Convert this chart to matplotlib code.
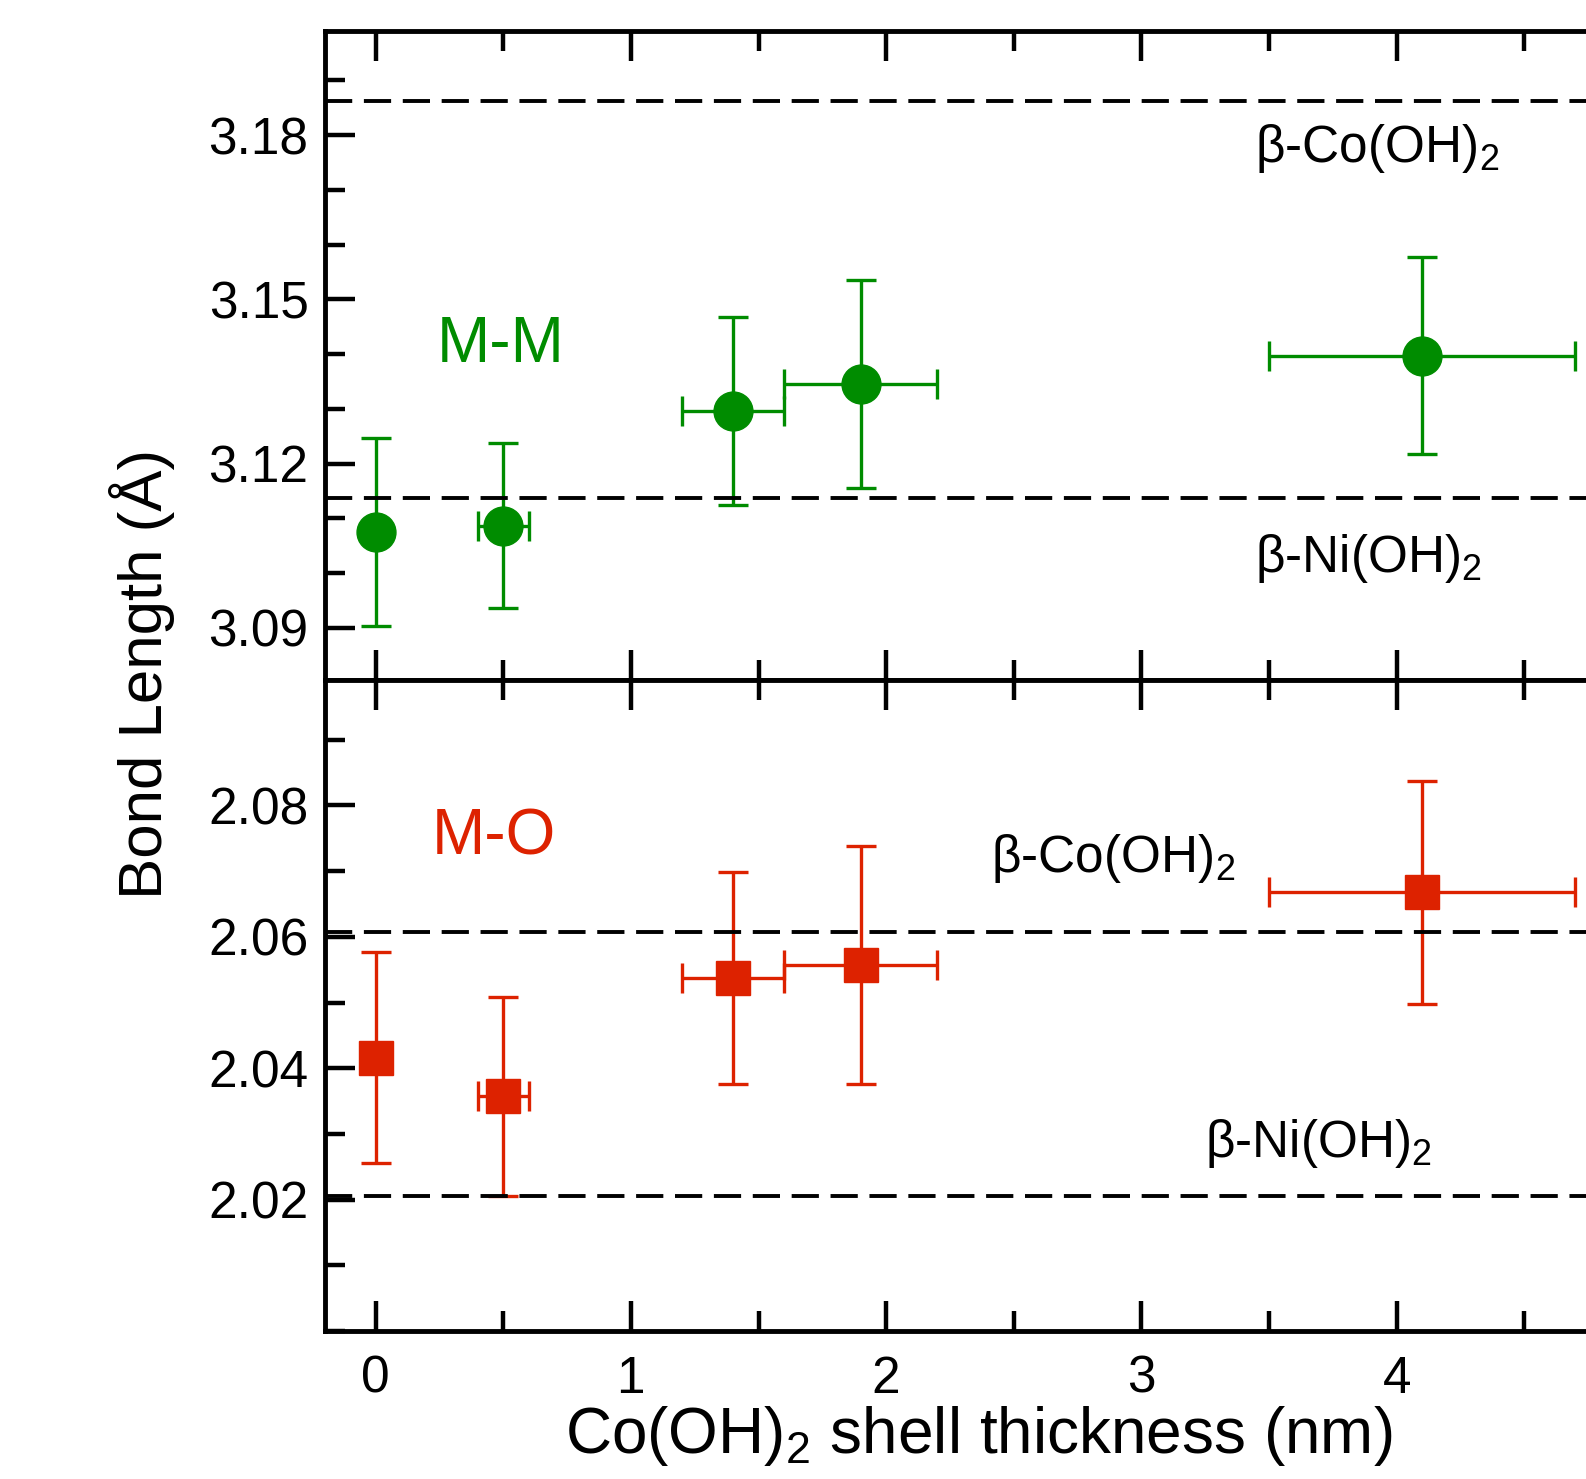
import matplotlib
matplotlib.use("Agg")
import matplotlib.pyplot as plt
from matplotlib.ticker import MultipleLocator, FormatStrFormatter

plt.rcParams['font.family'] = ['Liberation Sans', 'DejaVu Sans']
plt.rcParams['mathtext.fontset'] = 'custom'
plt.rcParams['mathtext.rm'] = 'Liberation Sans'
plt.rcParams['mathtext.it'] = 'Liberation Sans:italic'
plt.rcParams['mathtext.bf'] = 'Liberation Sans:bold'

# ---- data ----
thickness = [0.0, 0.5, 1.4, 1.9, 4.1]
thickness_err = [0.0, 0.1, 0.2, 0.3, 0.6]

mm_length = [3.1075, 3.1087, 3.1296, 3.1346, 3.1397]
mm_err = [0.0171, 0.0151, 0.0171, 0.0190, 0.0180]

mo_length = [2.0416, 2.0357, 2.0537, 2.0557, 2.0668]
mo_err = [0.0161, 0.0152, 0.0161, 0.0181, 0.0170]

mm_ref_co = 3.1862
mm_ref_ni = 3.1137
mo_ref_co = 2.0608
mo_ref_ni = 2.0205

x_ticks = [0, 1, 2, 3, 4, 5]
x_ticklabels = ['0', '1', '2', '3', '4', '']

green = '#008c00'
red = '#dd2200'

W, H = 1586, 1479
fig = plt.figure(figsize=(W / 100, H / 100), dpi=100)

left = 324.5 / W
width = 5.4 * 255.3 / W
ax_top = fig.add_axes([left, 1 - 680 / H, width, 649 / H])
ax_bot = fig.add_axes([left, 1 - 1331 / H, width, 651 / H])

tick_fs = 37
for ax in (ax_top, ax_bot):
    ax.set_xlim(-0.2, 5.2)
    ax.set_xticks(x_ticks, labels=x_ticklabels)
    ax.xaxis.set_minor_locator(MultipleLocator(0.5))
    ax.yaxis.set_minor_locator(MultipleLocator(0.01))
    ax.tick_params(which='both', direction='in', top=True, bottom=True,
                   left=True, right=True, width=3.2)
    ax.tick_params(which='major', length=21.5)
    ax.tick_params(which='minor', length=14.5)
    ax.tick_params(axis='y', labelsize=tick_fs, pad=11.5)
    ax.tick_params(axis='x', labelsize=tick_fs, pad=17)
    for s in ax.spines.values():
        s.set_linewidth(3.5)

ax_top.set_ylim(3.0805, 3.199)
ax_top.yaxis.set_major_locator(MultipleLocator(0.03))
ax_top.yaxis.set_major_formatter(FormatStrFormatter('%.2f'))
ax_top.tick_params(axis='x', labelbottom=False)

ax_bot.set_ylim(2.0, 2.0991)
ax_bot.set_yticks([2.02, 2.04, 2.06, 2.08])
ax_bot.yaxis.set_major_formatter(FormatStrFormatter('%.2f'))

eb_kw = dict(linestyle='none', elinewidth=2.4, capsize=11, capthick=2.4, zorder=2)
ax_top.errorbar(thickness, mm_length, yerr=mm_err, xerr=thickness_err,
                marker='o', markersize=28, color=green, **eb_kw)
ax_bot.errorbar(thickness, mo_length, yerr=mo_err, xerr=thickness_err,
                marker='s', markersize=25, color=red, **eb_kw)

dash_kw = dict(color='black', linewidth=2.8, dashes=(7.0, 3.0), zorder=3)
ax_top.axhline(mm_ref_co, **dash_kw)
ax_top.axhline(mm_ref_ni, **dash_kw)
ax_bot.axhline(mo_ref_co, **dash_kw)
ax_bot.axhline(mo_ref_ni, **dash_kw)

lab_fs = 37
ax_top.text(3.445, 3.1775, r'β-Co(OH)$\mathregular{_2}$', fontsize=lab_fs, va='center', ha='left')
ax_top.text(3.445, 3.1026, r'β-Ni(OH)$\mathregular{_2}$', fontsize=lab_fs, va='center', ha='left')
ax_bot.text(2.409, 2.0719, r'β-Co(OH)$\mathregular{_2}$', fontsize=lab_fs, va='center', ha='left')
ax_bot.text(3.248, 2.0286, r'β-Ni(OH)$\mathregular{_2}$', fontsize=lab_fs, va='center', ha='left')

ax_top.text(0.24, 3.1417, 'M-M', fontsize=46, color=green, va='center', ha='left')
ax_bot.text(0.22, 2.0751, 'M-O', fontsize=46, color=red, va='center', ha='left')

fig.text(142 / W, 1 - 674 / H, 'Bond Length (Å)', rotation=90, fontsize=44.5,
         ha='center', va='center')
fig.text(979 / W, 1 - 1436 / H, r'Co(OH)$\mathregular{_2}$ shell thickness (nm)',
         fontsize=46, ha='center', va='center')

fig.savefig('out.png', dpi=100)
